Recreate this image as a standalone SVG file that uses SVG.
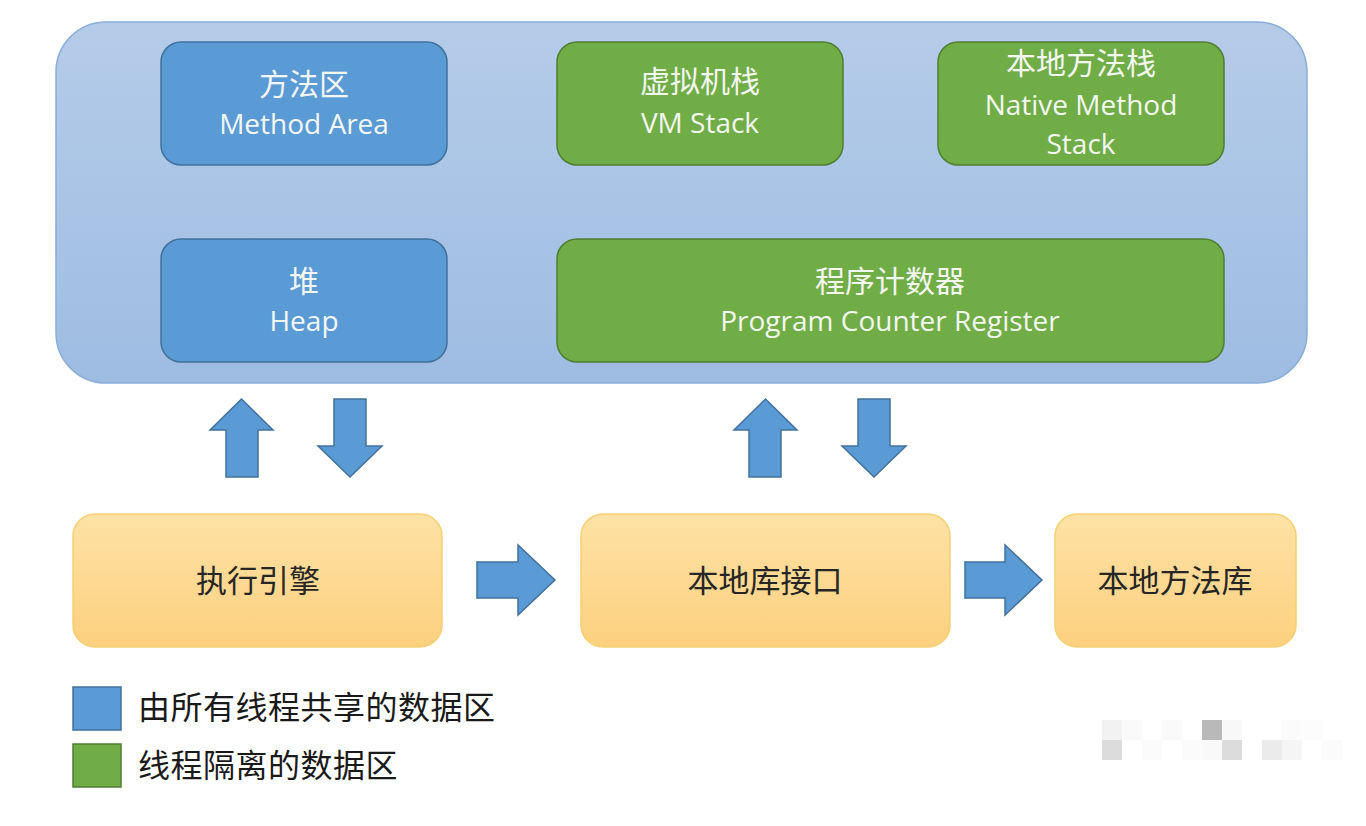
<svg xmlns="http://www.w3.org/2000/svg" width="1366" height="826" viewBox="0 0 1366 826">
<defs>
<linearGradient id="gOuter" x1="0" y1="0" x2="0" y2="1">
<stop offset="0" stop-color="#b5cce9"/>
<stop offset="1" stop-color="#9ebce2"/>
</linearGradient>
<linearGradient id="gOrange" x1="0" y1="0" x2="0" y2="1">
<stop offset="0" stop-color="#fee2a6"/>
<stop offset="1" stop-color="#fcd07e"/>
</linearGradient>
<style>
.blue{fill:#5b9bd5;stroke:#41719c;stroke-width:1.5}
.green{fill:#70ad47;stroke:#507e32;stroke-width:1.5}
.orange{fill:url(#gOrange);stroke:#f6cf72;stroke-width:1.5}
.arrow{fill:#5b9bd5;stroke:#41719c;stroke-width:1.5;stroke-linejoin:miter}
.wc{font-family:"Noto Sans CJK SC",sans-serif;font-size:30px;fill:#f4f6f2;text-anchor:middle}
.we{font-family:"Open Sans","Noto Sans",sans-serif;font-size:28px;fill:#f4f6f2;text-anchor:middle}
.d{font-family:"Noto Sans CJK SC",sans-serif;font-size:31px;fill:#262626;text-anchor:middle}
.lg{font-family:"Noto Sans CJK SC",sans-serif;font-size:32px;fill:#1a1a1a;letter-spacing:0.5px}
.wm{stroke:none}
</style>
</defs>
<rect width="1366" height="826" fill="#ffffff"/>

<g id="jvm-runtime-area">
<rect x="56" y="22" width="1251" height="361" rx="50" fill="url(#gOuter)" stroke="#8aaed8" stroke-width="1.5"/>
</g>

<g id="method-area">
<rect class="blue" x="161" y="42" width="286" height="123" rx="20"/>
<text class="wc" x="304" y="95">方法区</text>
<text class="we" x="304" y="134">Method Area</text>
</g>

<g id="vm-stack">
<rect class="green" x="557" y="42" width="286" height="123" rx="20"/>
<text class="wc" x="700" y="92">虚拟机栈</text>
<text class="we" x="700" y="133">VM Stack</text>
</g>

<g id="native-method-stack">
<rect class="green" x="938" y="42" width="286" height="123" rx="20"/>
<text class="wc" x="1081" y="74">本地方法栈</text>
<text class="we" x="1081" y="115">Native Method</text>
<text class="we" x="1081" y="154">Stack</text>
</g>

<g id="heap">
<rect class="blue" x="161" y="239" width="286" height="123" rx="20"/>
<text class="wc" x="304" y="292">堆</text>
<text class="we" x="304" y="331">Heap</text>
</g>

<g id="program-counter-register">
<rect class="green" x="557" y="239" width="667" height="123" rx="20"/>
<text class="wc" x="890" y="292">程序计数器</text>
<text class="we" x="890" y="331">Program Counter Register</text>
</g>

<g id="execution-engine">
<rect class="orange" x="73" y="514" width="369" height="133" rx="22"/>
<text class="d" x="258" y="592">执行引擎</text>
</g>

<g id="native-interface">
<rect class="orange" x="581" y="514" width="369" height="133" rx="22"/>
<text class="d" x="765" y="592">本地库接口</text>
</g>

<g id="native-library">
<rect class="orange" x="1055" y="514" width="241" height="133" rx="22"/>
<text class="d" x="1175" y="592">本地方法库</text>
</g>

<g id="connectors">
<polygon class="arrow" points="241.5,399 273,430 258,430 258,477 226,477 226,430 210,430"/>
<polygon class="arrow" points="334,399 366,399 366,446 382,446 350,477 318,446 334,446"/>
<polygon class="arrow" points="765.5,399 797,430 781,430 781,477 749,477 749,430 734,430"/>
<polygon class="arrow" points="858,399 890,399 890,446 906,446 874,477 842,446 858,446"/>
<polygon class="arrow" points="477,562 518,562 518,545 555,580 518,615 518,598 477,598"/>
<polygon class="arrow" points="965,562 1005,562 1005,545 1042,580 1005,615 1005,598 965,598"/>
</g>

<g id="legend">
<rect x="73" y="687" width="48" height="43" fill="#5b9bd5" stroke="#41719c" stroke-width="1.5"/>
<text class="lg" x="138" y="719">由所有线程共享的数据区</text>
<rect x="73" y="744" width="48" height="43" fill="#70ad47" stroke="#507e32" stroke-width="1.5"/>
<text class="lg" x="138" y="777">线程隔离的数据区</text>
</g>

<g id="watermark">
<rect class="wm" x="1102" y="720" width="20" height="20" fill="#f2f2f2"/>
<rect class="wm" x="1122" y="720" width="20" height="20" fill="#fafafa"/>
<rect class="wm" x="1162" y="720" width="20" height="20" fill="#fafafa"/>
<rect class="wm" x="1202" y="720" width="20" height="20" fill="#b9b9b9"/>
<rect class="wm" x="1222" y="720" width="20" height="20" fill="#f8f8f8"/>
<rect class="wm" x="1282" y="720" width="20" height="20" fill="#fbfbfb"/>
<rect class="wm" x="1302" y="720" width="20" height="20" fill="#fcfcfc"/>
<rect class="wm" x="1102" y="740" width="20" height="20" fill="#dcdcdc"/>
<rect class="wm" x="1142" y="740" width="20" height="20" fill="#fbfbfb"/>
<rect class="wm" x="1182" y="740" width="20" height="20" fill="#fbfbfb"/>
<rect class="wm" x="1202" y="740" width="20" height="20" fill="#f9f9f9"/>
<rect class="wm" x="1222" y="740" width="20" height="20" fill="#dcdcdc"/>
<rect class="wm" x="1262" y="740" width="20" height="20" fill="#ebebeb"/>
<rect class="wm" x="1282" y="740" width="20" height="20" fill="#f5f5f5"/>
<rect class="wm" x="1322" y="740" width="20" height="20" fill="#fbfbfb"/>
</g>
</svg>
